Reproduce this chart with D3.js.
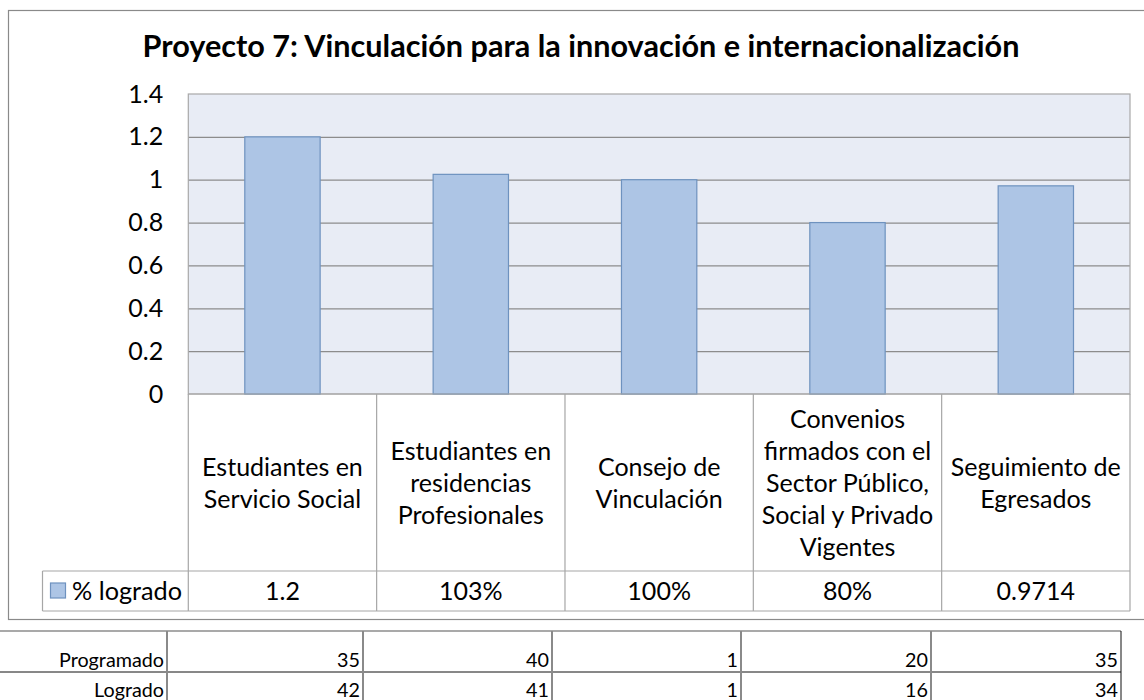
<!DOCTYPE html>
<html>
<head>
<meta charset="utf-8">
<script src="https://cdn.jsdelivr.net/npm/d3@7"></script>
<style>
  html, body { margin: 0; padding: 0; background: #fff; }
  svg { display: block; }
  text { font-family: Lato, "Open Sans", sans-serif; fill: #000; }
</style>
</head>
<body>
<svg id="chart" width="1144" height="700"></svg>
<script>
// ---- data ----
const title = "Proyecto 7: Vinculación para la innovación e internacionalización";
const categories = [
  ["Estudiantes en", "Servicio Social"],
  ["Estudiantes en", "residencias", "Profesionales"],
  ["Consejo de", "Vinculación"],
  ["Convenios", "firmados con el", "Sector Público,", "Social y Privado", "Vigentes"],
  ["Seguimiento de", "Egresados"]
];
const seriesName = "% logrado";
const pctLogrado = [1.2, 1.025, 1, 0.8, 0.9714];
const pctLabels = ["1.2", "103%", "100%", "80%", "0.9714"];
const yTicks = [0, 0.2, 0.4, 0.6, 0.8, 1, 1.2, 1.4];
const rowNames = ["Programado", "Logrado"];
const programado = [35, 40, 1, 20, 35];
const logrado = [42, 41, 1, 16, 34];

// ---- layout ----
const svg = d3.select("#chart");
const plot = { left: 188.3, right: 1130, top: 94, bottom: 394 };
const tableRowY = 571, tableBottom = 611, legendLeft = 42.5;
const lineH = 32;
const sheetCols = [167, 363, 552, 741, 931, 1121];
const sheetTop = 631, sheetMid = 672;

const x = d3.scaleBand()
  .domain(d3.range(categories.length))
  .range([plot.left, plot.right])
  .paddingInner(0.6).paddingOuter(0.3);
const step = x.step();
const colLeft = i => x(i) - x.paddingOuter() * step + 0; // band cell left edge
const cellLeft = i => plot.left + i * (plot.right - plot.left) / categories.length;
const cellW = (plot.right - plot.left) / categories.length;

const y = d3.scaleLinear().domain([0, 1.4]).range([plot.bottom, plot.top]);

function fitSize(str, width, weight) {
  const t = svg.append("text").attr("font-size", 100).attr("font-weight", weight || "normal").text(str);
  const w = t.node().getComputedTextLength();
  t.remove();
  return 100 * width / w;
}

// chart border
svg.append("rect").attr("x", 8.5).attr("y", 10.5).attr("width", 1150).attr("height", 609)
  .attr("fill", "#fff").attr("stroke", "#8a8a8a").attr("stroke-width", 1.2);

// title
const titleSize = fitSize(title, 877, "bold");
svg.append("text").attr("x", 581).attr("y", 57).attr("text-anchor", "middle")
  .attr("font-weight", "bold").attr("font-size", titleSize).text(title);

// plot background
svg.append("rect").attr("x", plot.left).attr("y", plot.top)
  .attr("width", plot.right - plot.left).attr("height", plot.bottom - plot.top)
  .attr("fill", "#E8ECF5");

// gridlines via axis
const grid = svg.append("g").attr("transform", `translate(${plot.left},0)`)
  .call(d3.axisLeft(y).tickValues(yTicks.filter(v => v > 0 && v < 1.4))
    .tickSize(-(plot.right - plot.left)).tickFormat(""));
grid.select(".domain").remove();
grid.selectAll("line").attr("stroke", "#8c8c8c").attr("stroke-width", 1.2);

// plot border
svg.append("rect").attr("x", plot.left).attr("y", plot.top)
  .attr("width", plot.right - plot.left).attr("height", plot.bottom - plot.top)
  .attr("fill", "none").attr("stroke", "#a8a8a8").attr("stroke-width", 1.2);

// bars
svg.append("g").selectAll("rect").data(pctLogrado).join("rect")
  .attr("x", (d, i) => x(i)).attr("width", x.bandwidth())
  .attr("y", d => y(d)).attr("height", d => y(0) - y(d))
  .attr("fill", "#ADC5E5").attr("stroke", "#6E92BF").attr("stroke-width", 1.2);

// y axis labels
const labelSize = fitSize("Seguimiento de", 170);
const yAxis = svg.append("g").attr("transform", `translate(${plot.left},0)`)
  .call(d3.axisLeft(y).tickValues(yTicks).tickSize(0).tickPadding(25)
    .tickFormat(d => d3.format("~g")(d)));
yAxis.select(".domain").remove();
yAxis.selectAll("text").attr("font-size", labelSize).attr("font-family", "Lato, sans-serif")
  .attr("fill", "#000");

// data table lines
const tbl = svg.append("g").attr("stroke", "#a6a6a6").attr("stroke-width", 1.2).attr("fill", "none");
tbl.append("line").attr("x1", plot.left).attr("x2", plot.right).attr("y1", plot.bottom).attr("y2", plot.bottom);
tbl.append("line").attr("x1", legendLeft).attr("x2", plot.right).attr("y1", tableRowY).attr("y2", tableRowY);
tbl.append("line").attr("x1", legendLeft).attr("x2", plot.right).attr("y1", tableBottom).attr("y2", tableBottom);
tbl.append("line").attr("x1", legendLeft).attr("x2", legendLeft).attr("y1", tableRowY).attr("y2", tableBottom);
d3.range(categories.length + 1).forEach(i => {
  const xx = plot.left + i * cellW;
  tbl.append("line").attr("x1", xx).attr("x2", xx).attr("y1", plot.bottom).attr("y2", tableBottom);
});

// category labels
const catMid = (plot.bottom + tableRowY) / 2;
categories.forEach((lines, i) => {
  const cx = cellLeft(i) + cellW / 2;
  const t = svg.append("text").attr("text-anchor", "middle").attr("font-size", labelSize);
  lines.forEach((ln, j) => {
    t.append("tspan").attr("x", cx)
      .attr("y", catMid + (j - (lines.length - 1) / 2) * lineH + labelSize * 0.36)
      .text(ln);
  });
});

// legend row
const rowMid = (tableRowY + tableBottom) / 2;
svg.append("rect").attr("x", 50.5).attr("y", rowMid - 8).attr("width", 15).attr("height", 15)
  .attr("fill", "#ADC5E5").attr("stroke", "#6E92BF").attr("stroke-width", 1.2);
svg.append("text").attr("x", 72).attr("y", rowMid + labelSize * 0.36)
  .attr("font-size", fitSize(seriesName, 110)).text(seriesName);
pctLabels.forEach((s, i) => {
  svg.append("text").attr("x", cellLeft(i) + cellW / 2).attr("y", rowMid + labelSize * 0.36)
    .attr("text-anchor", "middle").attr("font-size", labelSize).text(s);
});

// spreadsheet rows below chart
const sh = svg.append("g");
sh.append("line").attr("x1", 0).attr("x2", sheetCols[sheetCols.length - 1])
  .attr("y1", sheetTop).attr("y2", sheetTop).attr("stroke", "#555").attr("stroke-width", 1.2);
sh.append("line").attr("x1", 0).attr("x2", sheetCols[sheetCols.length - 1])
  .attr("y1", sheetMid).attr("y2", sheetMid).attr("stroke", "#111").attr("stroke-width", 1);
sheetCols.forEach((cx, i) => {
  sh.append("line").attr("x1", cx).attr("x2", cx).attr("y1", sheetTop).attr("y2", 700)
    .attr("stroke", i === sheetCols.length - 1 ? "#111" : "#8a8a8a")
    .attr("stroke-width", i === sheetCols.length - 1 ? 1 : 2);
});
const sheetSize = fitSize("Programado", 105);
const sheetRows = [programado, logrado];
const rowBase = [667, 697];
sheetRows.forEach((vals, r) => {
  sh.append("text").attr("x", sheetCols[0] - 3).attr("y", rowBase[r]).attr("text-anchor", "end")
    .attr("font-size", sheetSize).text(rowNames[r]);
  vals.forEach((v, i) => {
    sh.append("text").attr("x", sheetCols[i + 1] - 3).attr("y", rowBase[r]).attr("text-anchor", "end")
      .attr("font-size", sheetSize).text(v);
  });
});
</script>
</body>
</html>
